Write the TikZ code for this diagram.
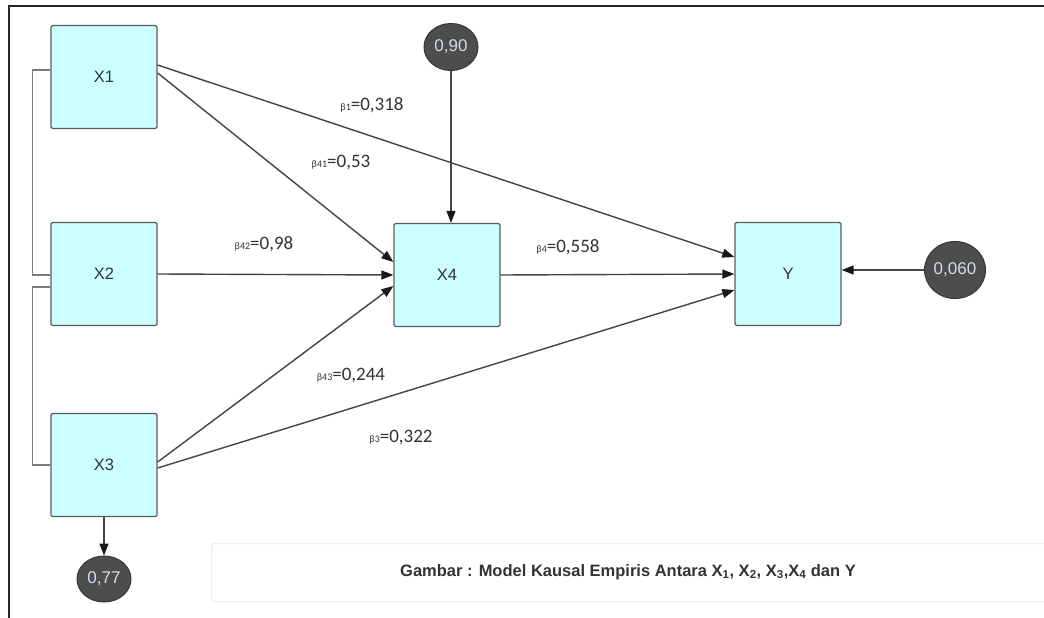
\documentclass[tikz,border=0pt]{standalone}
\usepackage{fontspec}
\setmainfont{Liberation Sans}
\newfontfamily\lblfont{Carlito}
\usetikzlibrary{arrows.meta,shapes.geometric}
\definecolor{boxfill}{HTML}{CCFFFF}
\definecolor{boxline}{HTML}{5A5A5A}
\definecolor{errfill}{HTML}{4D4D4D}
\definecolor{errtext}{HTML}{D2DEEC}
\definecolor{linec}{HTML}{444444}
\definecolor{brk}{HTML}{7A7A7A}
\definecolor{capline}{HTML}{ECEEF4}
\definecolor{lbl}{HTML}{333333}
\tikzset{
  varbox/.style={draw=boxline, line width=1.3pt, fill=boxfill, rounded corners=1.5pt,
    minimum width=106pt, minimum height=103pt, inner sep=0pt,
    font=\fontsize{16.5}{16.5}\selectfont, text=lbl},
  errnode/.style={ellipse, draw=errfill!70!black, line width=1pt, fill=errfill, inner sep=0pt,
    text=errtext, font=\fontsize{17}{17}\selectfont},
  pathar/.style={draw=linec, line width=1.4pt, -{Triangle[length=12pt,width=9pt,fill=black!90,color=black!90]}},
  bracket/.style={draw=brk, line width=1.6pt},
  coef/.style={font=\lblfont\fontsize{19}{19}\selectfont, text=lbl, inner sep=0pt},
}
\newcommand{\bsub}[1]{{\fontsize{10}{10}\selectfont β#1}}
\begin{document}
\begin{tikzpicture}[x=1pt,y=-1pt]
\useasboundingbox (0,0) rectangle (1044,618);
\fill[white] (0,0) rectangle (1044,618);
% frame
\draw[line width=2.2pt, black!85] (1044,6) -- (9,6) -- (9,618);
% caption box
\node[draw=capline, line width=1.2pt, rounded corners=2pt, minimum width=840pt, minimum height=58pt, anchor=north west, inner sep=0pt] (cap) at (211,543) {};
\node[font=\bfseries\fontsize{16.5}{16.5}\selectfont, text=black!80] (captext) at (628,572)
  {Gambar : Model Kausal Empiris Antara X\textsubscript{1}, X\textsubscript{2}, X\textsubscript{3},X\textsubscript{4} dan Y};
% boxes
\node[varbox] (X1) at (104,77) {X1};
\node[varbox] (X2) at (104,274) {X2};
\node[varbox] (X3) at (104,465) {X3};
\node[varbox] (X4) at (447,275) {X4};
\node[varbox] (Y) at (788,274) {Y};
% error terms
\node[errnode, minimum width=54pt, minimum height=47pt] (e4) at (451,47) {0,90};
\node[errnode, minimum width=61pt, minimum height=57pt] (ey) at (955,270) {0,060};
\node[errnode, minimum width=54pt, minimum height=46pt] (e3) at (104,579) {0,77};
% brackets
\draw[bracket] ([yshift=7pt]X1.west) -- ++(-18,0) |- ([yshift=-1pt]X2.west);
\draw[bracket] ([yshift=-13pt]X2.west) -- ++(-18,0) |- (X3.west);
% paths
\draw[pathar] ([yshift=12pt]X1.east) -- ([yshift=17pt]Y.west);
\draw[pathar] ([yshift=4pt]X1.east) -- ([yshift=13pt]X4.west);
\draw[pathar] (X2.east) -- (X4.west);
\draw[pathar] ([yshift=3pt]X3.east) -- ([yshift=-11pt]X4.west);
\draw[pathar] ([yshift=-3pt]X3.east) -- ([yshift=-16pt]Y.west);
\draw[pathar] (X4.east) -- (Y.west);
\draw[pathar] (e4) -- (X4.north -| e4);
\draw[pathar] (ey) -- (Y.east |- ey);
\draw[pathar] (X3) -- (e3);
% coefficients
\node[coef] (c1) at (372,105) {\bsub{1}=0,318};
\node[coef] (c41) at (341,163) {\bsub{41}=0,53};
\node[coef] (c42) at (264,244) {\bsub{42}=0,98};
\node[coef] (c4) at (568,247) {\bsub{4}=0,558};
\node[coef] (c43) at (351,376) {\bsub{43}=0,244};
\node[coef] (c3) at (401,438) {\bsub{3}=0,322};
\end{tikzpicture}
\end{document}
